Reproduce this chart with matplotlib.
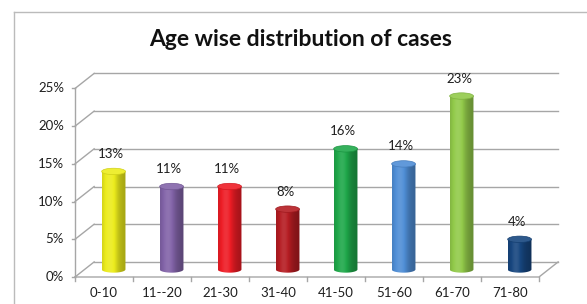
import numpy as np
import matplotlib
matplotlib.use("Agg")
import matplotlib.pyplot as plt
from matplotlib.patches import Ellipse, Polygon
from matplotlib.lines import Line2D
from matplotlib.colors import to_rgb

plt.rcParams["font.family"] = ["Lato", "DejaVu Sans"]

# Chart data
categories = ["0-10", "11--20", "21-30", "31-40", "41-50", "51-60", "61-70", "71-80"]
values = [13, 11, 11, 8, 16, 14, 23, 4]
y_ticks = [0, 5, 10, 15, 20, 25]

bar_colors = ["#ECEC1C", "#8263A8", "#EE1C25", "#B51C22",
              "#1FA84A", "#4F8ED6", "#92CA4A", "#17467F"]

# Pseudo 3D layout (data units): depth offset of the back wall
depth_x = 0.33
depth_y = 2.0
bar_w = 0.41
ell_h = 0.85
grid_col = "#A6A6A6"
text_col = "#1E1E1E"

fig = plt.figure(figsize=(5.87, 3.04), dpi=100)
ax = fig.add_axes([0, 0, 1, 1])
ax.set_axis_off()

n = len(categories)
x_left, x_right = -0.5, n - 0.5

# back wall gridlines + side wall diagonals
for t in y_ticks:
    ax.plot([x_left + depth_x, x_right + depth_x], [t + depth_y, t + depth_y],
            color=grid_col, lw=1.0, zorder=1)
    ax.plot([x_left, x_left + depth_x], [t, t + depth_y], color=grid_col, lw=1.0, zorder=1)
    ax.plot([x_left - 0.05, x_left], [t, t], color=grid_col, lw=1.0, zorder=1)
    ax.text(x_left - 0.19, t, f"{t}%", ha="right", va="center", fontsize=9.5, color=text_col)

# floor and front axis
ax.plot([x_left, x_right, x_right + depth_x], [0, 0, depth_y], color=grid_col, lw=1.0, zorder=1)
ax.plot([x_left, x_left], [0, y_ticks[-1]], color=grid_col, lw=1.0, zorder=1)
for k in range(n + 1):
    ax.plot([x_left + k, x_left + k], [0, -0.55], color=grid_col, lw=1.0, zorder=1)

# cylinders
mid_x, mid_y = depth_x / 2, depth_y / 2
tt = np.linspace(0, 1, 64)
shade = 0.82 + 0.32 * np.exp(-((tt - 0.35) / 0.3) ** 2) - 0.12 * tt
theta = np.linspace(np.pi, 2 * np.pi, 40)
for i, (v, col) in enumerate(zip(values, bar_colors)):
    base = np.array(to_rgb(col))
    grad = np.empty((1, len(tt), 3))
    for j, f in enumerate(shade):
        if f <= 1:
            grad[0, j] = base * f
        else:
            grad[0, j] = base + (1 - base) * (f - 1)
    cx = i + mid_x
    y0 = mid_y
    y1 = v + mid_y
    xl, xr = cx - bar_w / 2, cx + bar_w / 2
    outline = [(cx + bar_w / 2 * np.cos(a), y0 + ell_h / 2 * np.sin(a)) for a in theta]
    outline += [(xr, y1), (xl, y1)]
    clip = Polygon(outline, closed=True, facecolor="none", edgecolor="none")
    ax.add_patch(clip)
    img = ax.imshow(grad, extent=[xl, xr, y0 - ell_h, y1], aspect="auto",
                    interpolation="bilinear", zorder=3)
    img.set_clip_path(clip)
    top = Ellipse((cx, y1), bar_w, ell_h,
                  facecolor=base + (1 - base) * 0.1,
                  edgecolor=base * 0.88, lw=0.5, zorder=4)
    ax.add_patch(top)
    ax.annotate(f"{v}%", (cx - 0.04, y1 + ell_h / 2), xytext=(0, 6),
                textcoords="offset points", ha="center", va="bottom",
                fontsize=9.5, color=text_col, zorder=5)

for i, c in enumerate(categories):
    ax.text(i, -1.3, c, ha="center", va="top", fontsize=9.5, color=text_col)

# pixel-matched data limits
px_cat = 58.0
px_pct = 7.54
ax.set_xlim(x_left - 75 / px_cat, x_left + (587 - 75) / px_cat)
ax.set_ylim(-27 / px_pct, (304 - 27) / px_pct)

# chart frame
fig.add_artist(Line2D([14 / 587, 1], [1 - 12 / 304, 1 - 12 / 304], color="#BBBBBB", lw=1.0))
fig.add_artist(Line2D([14 / 587, 14 / 587], [0, 1 - 12 / 304], color="#BBBBBB", lw=1.0))

fig.text(301 / 587, 1 - 39 / 304, "Age wise distribution of cases", ha="center", va="center",
         fontsize=16.5, fontweight="bold", color="#111111")

fig.savefig("out.png", dpi=100)
